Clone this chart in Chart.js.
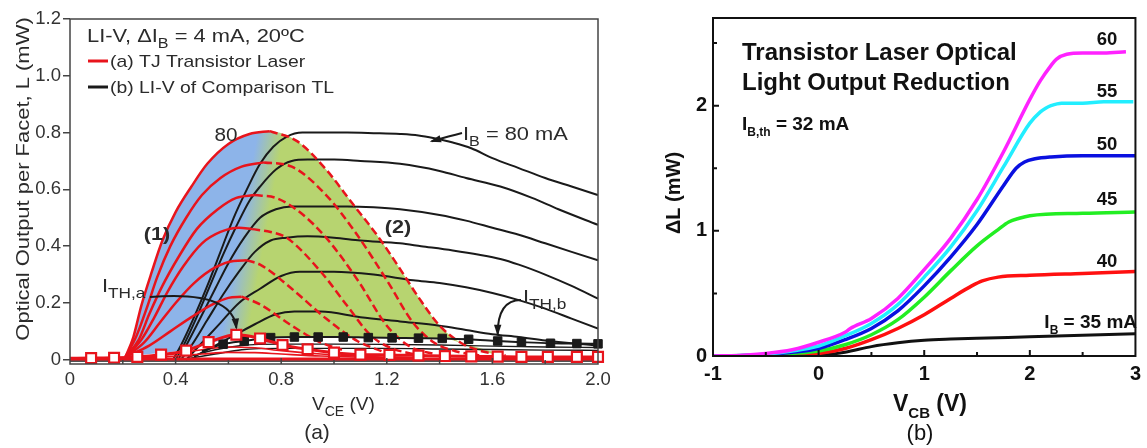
<!DOCTYPE html>
<html>
<head>
<meta charset="utf-8">
<title>Transistor laser LI-V</title>
<script src="https://cdn.jsdelivr.net/npm/chart.js"></script>
<style>
  body { margin: 0; background: #fff; }
  #wrap { position: relative; width: 1147px; height: 448px; }
  #chartA { position: absolute; left: 0; top: 0; }
  #chartB { position: absolute; left: 630px; top: 0; }
</style>
</head>
<body>
<div id="wrap">
  <canvas id="chartA" width="620" height="448"></canvas>
  <canvas id="chartB" width="517" height="448"></canvas>
</div>
<script>
// ---------- panel (a): LI-V, ticks ----------
const aXTicks = [0, 0.2, 0.4, 0.6, 0.8, 1.0, 1.2, 1.4, 1.6, 1.8, 2.0];
const aXLabels = ['0', '', '0.4', '', '0.8', '', '1.2', '', '1.6', '', '2.0'];
const aYTicks = [0, 0.2, 0.4, 0.6, 0.8, 1.0, 1.2];
const aYLabels = ['0', '0.2', '0.4', '0.6', '0.8', '1.0', '1.2'];

// TJ transistor laser, rising part (solid) and falling part (dashed), IB = 80..60 mA
const aRise80X = [0.21, 0.24, 0.27, 0.31, 0.35, 0.40, 0.46, 0.52, 0.60, 0.68, 0.757];
const aRise80Y = [0.01, 0.08, 0.19, 0.31, 0.42, 0.52, 0.61, 0.69, 0.76, 0.795, 0.805];
const aFall80X = [0.757, 0.86, 0.97, 1.07, 1.17, 1.25, 1.32, 1.40, 1.48, 1.56, 1.65];
const aFall80Y = [0.805, 0.77, 0.67, 0.55, 0.43, 0.32, 0.22, 0.12, 0.06, 0.03, 0.015];
const aRise76X = [0.21, 0.25, 0.29, 0.33, 0.38, 0.44, 0.50, 0.57, 0.65, 0.735];
const aRise76Y = [0.01, 0.08, 0.18, 0.29, 0.40, 0.50, 0.58, 0.64, 0.68, 0.695];
const aFall76X = [0.735, 0.84, 0.97, 1.08, 1.2, 1.3, 1.38, 1.46, 1.55];
const aFall76Y = [0.695, 0.68, 0.58, 0.45, 0.28, 0.13, 0.06, 0.03, 0.015];
const aRise72X = [0.21, 0.26, 0.30, 0.35, 0.41, 0.48, 0.56, 0.63, 0.70];
const aRise72Y = [0.01, 0.07, 0.16, 0.26, 0.36, 0.46, 0.53, 0.57, 0.58];
const aFall72X = [0.70, 0.78, 0.87, 0.97, 1.09, 1.2, 1.29, 1.38];
const aFall72Y = [0.58, 0.57, 0.52, 0.43, 0.28, 0.12, 0.045, 0.02];
const aRise68X = [0.21, 0.27, 0.32, 0.37, 0.43, 0.50, 0.57, 0.64, 0.69];
const aRise68Y = [0.01, 0.07, 0.15, 0.24, 0.33, 0.41, 0.45, 0.465, 0.46];
const aFall68X = [0.69, 0.76, 0.82, 0.95, 1.05, 1.14, 1.22, 1.30];
const aFall68Y = [0.46, 0.45, 0.43, 0.31, 0.19, 0.085, 0.04, 0.02];
const aRise64X = [0.21, 0.28, 0.34, 0.40, 0.47, 0.55, 0.62, 0.67];
const aRise64Y = [0.01, 0.06, 0.13, 0.20, 0.27, 0.325, 0.348, 0.35];
const aFall64X = [0.67, 0.72, 0.84, 0.97, 1.09, 1.18];
const aFall64Y = [0.35, 0.335, 0.25, 0.145, 0.065, 0.03];
const aRise60X = [0.21, 0.30, 0.38, 0.46, 0.54, 0.60, 0.65];
const aRise60Y = [0.01, 0.05, 0.10, 0.15, 0.195, 0.218, 0.222];
const aFall60X = [0.65, 0.72, 0.84, 0.94, 1.03];
const aFall60Y = [0.222, 0.195, 0.12, 0.065, 0.035];

// below-threshold red traces
const aHumpX = [0.21, 0.35, 0.5, 0.6, 0.7, 0.8, 0.95, 1.1, 1.3];
const aHump1Y = [0.005, 0.015, 0.035, 0.045, 0.042, 0.032, 0.02, 0.012, 0.008];
const aHump2Y = [0.004, 0.01, 0.02, 0.026, 0.025, 0.02, 0.013, 0.009, 0.006];
const aBaseX = [0, 2.0];
const aRedBaseY = [0.003, 0.003];
const aBlkBaseY = [-0.004, -0.004];

// threshold traces with markers
const aThAX = [0, 0.08, 0.167, 0.255, 0.345, 0.44, 0.525, 0.63, 0.72, 0.805, 0.90, 1.0, 1.1, 1.21, 1.32, 1.42, 1.52, 1.62, 1.71, 1.81, 1.92, 2.0];
const aThAY = [0.005, 0.006, 0.007, 0.01, 0.018, 0.032, 0.062, 0.088, 0.075, 0.052, 0.037, 0.025, 0.018, 0.017, 0.015, 0.013, 0.012, 0.011, 0.01, 0.01, 0.01, 0.01];
const aThBX = [0.50, 0.58, 0.66, 0.76, 0.85, 0.94, 1.035, 1.13, 1.22, 1.32, 1.41, 1.51, 1.62, 1.71, 1.82, 1.92, 2.0];
const aThBY = [0.03, 0.055, 0.066, 0.078, 0.08, 0.08, 0.08, 0.078, 0.077, 0.076, 0.075, 0.072, 0.066, 0.062, 0.058, 0.057, 0.056];

// comparison TL (black), IB = 80..60 mA
const aK80X = [0.39, 0.42, 0.47, 0.52, 0.57, 0.62, 0.67, 0.72, 0.77, 0.82, 0.88, 0.95, 1.05, 1.15, 1.25, 1.32, 1.38, 1.45, 1.52, 1.6, 1.7, 1.8, 1.9, 2.0];
const aK80Y = [0.0, 0.05, 0.15, 0.26, 0.38, 0.5, 0.6, 0.69, 0.75, 0.785, 0.80, 0.80, 0.80, 0.798, 0.795, 0.79, 0.78, 0.765, 0.745, 0.71, 0.675, 0.64, 0.61, 0.58];
const aK76X = [0.40, 0.43, 0.48, 0.53, 0.58, 0.63, 0.68, 0.72, 0.78, 0.84, 0.9, 1.0, 1.1, 1.25, 1.4, 1.5, 1.63, 1.75, 1.85, 2.0];
const aK76Y = [0, 0.05, 0.15, 0.26, 0.37, 0.47, 0.56, 0.61, 0.67, 0.70, 0.705, 0.705, 0.70, 0.69, 0.665, 0.64, 0.61, 0.57, 0.53, 0.475];
const aK72X = [0.41, 0.44, 0.49, 0.55, 0.6, 0.66, 0.72, 0.78, 0.84, 0.95, 1.05, 1.15, 1.25, 1.4, 1.5, 1.6, 1.7, 1.8, 1.9, 2.0];
const aK72Y = [0, 0.05, 0.14, 0.25, 0.34, 0.43, 0.50, 0.53, 0.54, 0.54, 0.54, 0.537, 0.53, 0.51, 0.49, 0.465, 0.44, 0.41, 0.38, 0.35];
const aK68X = [0.42, 0.46, 0.52, 0.58, 0.64, 0.7, 0.76, 0.82, 0.9, 1.0, 1.1, 1.25, 1.33, 1.45, 1.55, 1.63, 1.7, 1.8, 1.9, 2.0];
const aK68Y = [0, 0.05, 0.14, 0.23, 0.31, 0.38, 0.42, 0.43, 0.435, 0.43, 0.42, 0.41, 0.40, 0.385, 0.37, 0.355, 0.335, 0.30, 0.26, 0.215];
const aK64X = [0.44, 0.5, 0.57, 0.64, 0.72, 0.8, 0.87, 1.0, 1.15, 1.3, 1.4, 1.5, 1.6, 1.7, 1.8, 1.9, 2.0];
const aK64Y = [0, 0.06, 0.13, 0.2, 0.25, 0.295, 0.31, 0.31, 0.30, 0.28, 0.27, 0.255, 0.235, 0.21, 0.18, 0.145, 0.11];
const aK60X = [0.47, 0.55, 0.63, 0.7, 0.78, 0.85, 0.95, 1.1, 1.25, 1.4, 1.5, 1.6, 1.7, 1.8, 1.9, 2.0];
const aK60Y = [0.01, 0.05, 0.09, 0.125, 0.16, 0.17, 0.17, 0.15, 0.135, 0.12, 0.105, 0.09, 0.08, 0.068, 0.058, 0.05];
const aBundX = [0.45, 0.55, 0.65, 0.8, 1.0, 1.2, 1.4, 1.6, 1.8, 2.0];
const aBund1Y = [0.01, 0.035, 0.05, 0.055, 0.055, 0.054, 0.052, 0.048, 0.045, 0.043];
const aBund2Y = [0.005, 0.02, 0.035, 0.04, 0.04, 0.04, 0.038, 0.036, 0.034, 0.033];

// lower edge of the shaded regions (1) and (2)
const aFillLowX = [0.21, 0.3, 0.4, 0.5, 0.56, 0.63, 0.7, 0.76, 0.9, 1.1, 1.3, 1.42, 1.48, 1.65];
const aFillLowY = [0.01, 0.02, 0.03, 0.05, 0.065, 0.08, 0.08, 0.08, 0.08, 0.079, 0.076, 0.074, 0.06, 0.015];

// ---------- panel (b): light output reduction ----------
const bXTicks = [-1, -0.5, 0, 0.5, 1, 1.5, 2, 2.5, 3];
const bXLabels = ['-1', '', '0', '', '1', '', '2', '', '3'];
const bYTicks = [0, 0.5, 1, 1.5, 2, 2.5];
const bYLabels = ['0', '', '1', '', '2', ''];

const bM60X = [-1, -0.75, -0.5, -0.25, 0, 0.25, 0.3, 0.5, 0.75, 1.0, 1.25, 1.5, 1.75, 2.0, 2.1, 2.2, 2.25, 2.35, 2.5, 2.7, 2.91];
const bM60Y = [0, 0.005, 0.02, 0.05, 0.11, 0.19, 0.22, 0.30, 0.46, 0.69, 0.94, 1.25, 1.63, 2.05, 2.20, 2.32, 2.37, 2.41, 2.42, 2.42, 2.43];
const bC55X = [-1, -0.75, -0.5, -0.25, 0, 0.25, 0.5, 0.75, 1.0, 1.25, 1.5, 1.75, 2.0, 2.1, 2.15, 2.2, 2.3, 2.5, 2.7, 2.98];
const bC55Y = [0, 0.004, 0.015, 0.04, 0.08, 0.16, 0.26, 0.41, 0.63, 0.87, 1.16, 1.51, 1.86, 1.95, 1.98, 2.0, 2.02, 2.02, 2.03, 2.03];
const bB50X = [-1, -0.75, -0.5, -0.25, 0, 0.25, 0.5, 0.75, 1.0, 1.25, 1.5, 1.75, 1.87, 1.95, 2.05, 2.2, 2.5, 3.0];
const bB50Y = [0, 0.003, 0.012, 0.03, 0.06, 0.13, 0.22, 0.36, 0.56, 0.79, 1.05, 1.36, 1.50, 1.55, 1.575, 1.59, 1.60, 1.60];
const bG45X = [-1, -0.75, -0.5, -0.25, 0, 0.25, 0.5, 0.75, 1.0, 1.25, 1.5, 1.7, 1.8, 1.9, 2.0, 2.5, 3.0];
const bG45Y = [0, 0.002, 0.008, 0.02, 0.04, 0.09, 0.17, 0.29, 0.47, 0.68, 0.88, 1.01, 1.07, 1.10, 1.12, 1.14, 1.15];
const bR40X = [-1, -0.5, -0.25, 0, 0.25, 0.5, 0.75, 1.0, 1.25, 1.45, 1.55, 1.7, 2.0, 2.5, 3.0];
const bR40Y = [0, 0.005, 0.01, 0.02, 0.06, 0.13, 0.22, 0.33, 0.46, 0.56, 0.60, 0.63, 0.645, 0.66, 0.675];
const bK35X = [-1, -0.5, 0, 0.25, 0.5, 0.75, 1.0, 1.25, 1.5, 2.0, 2.5, 3.0];
const bK35Y = [0, 0, 0.005, 0.03, 0.075, 0.105, 0.125, 0.135, 0.142, 0.153, 0.165, 0.178];

// ---------- helpers ----------
const FONT = '"Liberation Sans", Arial, sans-serif';
const RED = '#e8141c';
const INK = '#1a1a1a';
Chart.defaults.font.family = FONT;
Chart.defaults.elements.line.cubicInterpolationMode = 'monotone';
Chart.defaults.elements.point.radius = 0;

const pts = (xs, ys) => xs.map((x, i) => ({ x: x, y: ys[i] }));
function line(xs, ys, color, width, extra) {
  return Object.assign({ data: pts(xs, ys), borderColor: color, borderWidth: width, pointRadius: 0, fill: false }, extra || {});
}

// text with subscripts; sx stretches the text along its baseline
function rich(ctx, x, y, parts, size, weight, align, sx, subRatio) {
  sx = sx || 1;
  const subSize = Math.round(size * (subRatio || 0.72));
  const main = weight + ' ' + size + 'px ' + FONT;
  const sub = weight + ' ' + subSize + 'px ' + FONT;
  let w = 0;
  parts.forEach(p => { ctx.font = p[1] ? sub : main; w += ctx.measureText(p[0]).width; });
  const start = align === 'right' ? x - w * sx : align === 'center' ? x - w * sx / 2 : x;
  ctx.save();
  ctx.translate(start, y);
  ctx.scale(sx, 1);
  ctx.textAlign = 'left';
  ctx.textBaseline = 'alphabetic';
  let cx = 0;
  parts.forEach(p => {
    ctx.font = p[1] ? sub : main;
    ctx.fillText(p[0], cx, p[1] ? size * 0.3 : 0);
    cx += ctx.measureText(p[0]).width;
  });
  ctx.restore();
}

function arrow(ctx, x0, y0, cx, cy, x1, y1, head) {
  ctx.beginPath();
  ctx.moveTo(x0, y0);
  ctx.quadraticCurveTo(cx, cy, x1, y1);
  ctx.stroke();
  const a = Math.atan2(y1 - cy, x1 - cx);
  ctx.beginPath();
  ctx.moveTo(x1 + Math.cos(a) * 2, y1 + Math.sin(a) * 2);
  ctx.lineTo(x1 - head * Math.cos(a - 0.38), y1 - head * Math.sin(a - 0.38));
  ctx.lineTo(x1 - head * Math.cos(a + 0.38), y1 - head * Math.sin(a + 0.38));
  ctx.closePath();
  ctx.fill();
}

// box around the plot plus inward tick marks
function framePlugin(name, color, width, xTicks, xLabels, yTicks, yLabels) {
  return {
    id: 'frame' + name,
    afterDatasetsDraw(chart) {
      const { ctx, chartArea: a, scales: { x, y } } = chart;
      ctx.save();
      ctx.strokeStyle = color;
      ctx.lineWidth = width;
      ctx.strokeRect(a.left, a.top, a.right - a.left, a.bottom - a.top);
      ctx.beginPath();
      xTicks.forEach((v, i) => {
        const px = x.getPixelForValue(v);
        if (px <= a.left + 1 || px >= a.right - 1) return;
        const len = xLabels[i] ? 6 : 4;
        ctx.moveTo(px, a.bottom);
        ctx.lineTo(px, a.bottom - len);
      });
      yTicks.forEach((v, i) => {
        const py = y.getPixelForValue(v);
        if (py <= a.top + 1 || py >= a.bottom - 1) return;
        const len = yLabels[i] ? 6 : 4;
        ctx.moveTo(a.left, py);
        ctx.lineTo(a.left + len, py);
      });
      ctx.stroke();
      ctx.restore();
    }
  };
}

// blue -> green blend across the line separating regions (1) and (2)
function blendFill(chart) {
  const { chartArea, scales } = chart;
  if (!chartArea || !scales.x) return 'rgba(141,180,233,0.9)';
  const ax = scales.x.getPixelForValue(0.62), ay = scales.y.getPixelForValue(0.07);
  const bx = scales.x.getPixelForValue(0.76), by = scales.y.getPixelForValue(0.80);
  let dx = bx - ax, dy = by - ay;
  const L = Math.hypot(dx, dy);
  dx /= L; dy /= L;
  const nx = -dy, ny = dx;
  const mx = (ax + bx) / 2, my = (ay + by) / 2, w = 13;
  const g = chart.ctx.createLinearGradient(mx - nx * w, my - ny * w, mx + nx * w, my + ny * w);
  g.addColorStop(0, 'rgb(141,180,233)');
  g.addColorStop(1, 'rgb(183,212,112)');
  return g;
}

// ---------- panel (a) ----------
const dashed = { borderDash: [8, 4] };
const envX = aRise80X.concat(aFall80X.slice(1));
const envY = aRise80Y.concat(aFall80Y.slice(1));

const datasetsA = [
  line(aThAX, aThAY, RED, 3, {
    pointStyle: 'rect', pointRadius: aThAX.map((v, i) => i === 0 ? 0 : 7),
    pointBackgroundColor: '#fff', pointBorderColor: RED, pointBorderWidth: 2.2, clip: 8
  }),
  line(aThBX, aThBY, INK, 2, {
    pointStyle: 'rect', pointRadius: aThBX.map((v, i) => i === 0 ? 0 : 6),
    pointBackgroundColor: INK, pointBorderColor: INK, pointBorderWidth: 1, clip: 8
  }),
  line(aBaseX, aRedBaseY, RED, 3),
  line(aHumpX, aHump1Y, RED, 1.6),
  line(aHumpX, aHump2Y, RED, 1.6),
  line(aFall80X, aFall80Y, RED, 2.5, dashed),
  line(aFall76X, aFall76Y, RED, 2.5, dashed),
  line(aFall72X, aFall72Y, RED, 2.5, dashed),
  line(aFall68X, aFall68Y, RED, 2.5, dashed),
  line(aFall64X, aFall64Y, RED, 2.5, dashed),
  line(aFall60X, aFall60Y, RED, 2.5, dashed),
  line(aRise80X, aRise80Y, RED, 2.5),
  line(aRise76X, aRise76Y, RED, 2.5),
  line(aRise72X, aRise72Y, RED, 2.5),
  line(aRise68X, aRise68Y, RED, 2.5),
  line(aRise64X, aRise64Y, RED, 2.5),
  line(aRise60X, aRise60Y, RED, 2.5),
  line(aK80X, aK80Y, INK, 2),
  line(aK76X, aK76Y, INK, 2),
  line(aK72X, aK72Y, INK, 2),
  line(aK68X, aK68Y, INK, 2),
  line(aK64X, aK64Y, INK, 2),
  line(aK60X, aK60Y, INK, 2),
  line(aBundX, aBund1Y, INK, 1.4),
  line(aBundX, aBund2Y, INK, 1.4),
  line(aBaseX, aBlkBaseY, INK, 1.5),
  line(envX, envY, 'rgba(0,0,0,0)', 0, { fill: '+1', backgroundColor: c => blendFill(c.chart) }),
  line(aFillLowX, aFillLowY, 'rgba(0,0,0,0)', 0)
];

const textA = {
  id: 'textA',
  afterDraw(chart) {
    const { ctx, scales: { x, y } } = chart;
    ctx.save();
    ctx.fillStyle = '#2b2b2b';
    rich(ctx, 87, 42, [['LI-V, \u0394I'], ['B', 1], [' = 4 mA, 20\u00baC']], 19, '', 'left', 1.15);
    ctx.lineWidth = 3;
    ctx.strokeStyle = RED;
    ctx.beginPath(); ctx.moveTo(88, 61); ctx.lineTo(108, 61); ctx.stroke();
    ctx.strokeStyle = INK;
    ctx.beginPath(); ctx.moveTo(88, 87); ctx.lineTo(108, 87); ctx.stroke();
    rich(ctx, 110, 67, [['(a) TJ Transistor Laser']], 17, '', 'left', 1.14);
    rich(ctx, 110, 93, [['(b) LI-V of Comparison TL']], 17, '', 'left', 1.14);
    rich(ctx, 226, 141, [['80']], 18, '', 'center', 1.15);
    rich(ctx, 157, 240, [['(1)']], 18, 'bold', 'center', 1.2);
    rich(ctx, 398, 233, [['(2)']], 18, 'bold', 'center', 1.2);
    rich(ctx, 463, 140, [['I'], ['B', 1], [' = 80 mA']], 19, '', 'left', 1.15, 0.75);
    rich(ctx, 102, 292, [['I'], ['TH,a', 1]], 19, '', 'left', 1.15, 0.8);
    rich(ctx, 523, 303, [['I'], ['TH,b', 1]], 19, '', 'left', 1.15, 0.8);

    ctx.strokeStyle = INK;
    ctx.fillStyle = INK;
    ctx.lineWidth = 2;
    const t1x = x.getPixelForValue(1.37), t1y = y.getPixelForValue(0.78) + 3;
    arrow(ctx, 462, 133, 450, 136, t1x, t1y, 10);
    const t2x = x.getPixelForValue(0.63), t2y = y.getPixelForValue(0.088) - 7;
    arrow(ctx, 150, 297, t2x - 4, 290, t2x, t2y, 10);
    const t3x = x.getPixelForValue(1.62), t3y = y.getPixelForValue(0.066) - 7;
    arrow(ctx, 521, 300, t3x, 300, t3x, t3y, 10);

    ctx.fillStyle = '#2b2b2b';
    rich(ctx, 312, 410, [['V'], ['CE', 1], [' (V)']], 19, '');
    rich(ctx, 317, 439, [['(a)']], 21, '', 'center');
    ctx.translate(23, 179);
    ctx.rotate(-Math.PI / 2);
    rich(ctx, 0, 6, [['Optical Output per Facet, L (mW)']], 18, '', 'center', 1.22);
    ctx.restore();
  }
};

new Chart(document.getElementById('chartA'), {
  type: 'line',
  data: { datasets: datasetsA },
  options: {
    responsive: false,
    animation: false,
    layout: { padding: { top: 19, right: 22, left: 0, bottom: 0 } },
    plugins: { legend: { display: false }, tooltip: { enabled: false } },
    scales: {
      x: {
        type: 'linear', min: 0, max: 2.0,
        afterBuildTicks: s => { s.ticks = aXTicks.map(v => ({ value: v })); },
        afterFit: s => { s.height = 84; },
        grid: { display: false, drawTicks: false }, border: { display: false },
        ticks: { autoSkip: false, maxRotation: 0, padding: 5, color: '#333', font: { size: 18.5 },
          callback: (v, i) => aXLabels[i] }
      },
      y: {
        type: 'linear', min: -0.015, max: 1.2,
        afterBuildTicks: s => { s.ticks = aYTicks.map(v => ({ value: v })); },
        afterFit: s => { s.width = 70; },
        grid: { drawOnChartArea: false, tickLength: 7, color: '#444', lineWidth: 1.5 },
        border: { display: false },
        ticks: { autoSkip: false, padding: 2, color: '#333', font: { size: 18.5 },
          callback: (v, i) => aYLabels[i] }
      }
    }
  },
  plugins: [framePlugin('A', '#444', 1.5, aXTicks, aXLabels, [], []), textA]
});

// ---------- panel (b) ----------
const datasetsB = [
  line(bM60X, bM60Y, '#ff22ff', 3.5),
  line(bC55X, bC55Y, '#22eeff', 3.5),
  line(bB50X, bB50Y, '#0a10e0', 3.5),
  line(bG45X, bG45Y, '#22ee22', 3.5),
  line(bR40X, bR40Y, '#ff1010', 3.5),
  line(bK35X, bK35Y, '#111', 3)
];

const textB = {
  id: 'textB',
  afterDraw(chart) {
    const ctx = chart.ctx;
    ctx.save();
    ctx.fillStyle = '#111';
    rich(ctx, 112, 60, [['Transistor Laser Optical']], 24, 'bold');
    rich(ctx, 112, 90, [['Light Output Reduction']], 24, 'bold');
    rich(ctx, 112, 130, [['I'], ['B,th', 1], [' = 32 mA']], 19, 'bold', 'left', 1, 0.62);
    rich(ctx, 477, 45, [['60']], 18.5, 'bold', 'center');
    rich(ctx, 477, 97, [['55']], 18.5, 'bold', 'center');
    rich(ctx, 477, 150, [['50']], 18.5, 'bold', 'center');
    rich(ctx, 477, 205, [['45']], 18.5, 'bold', 'center');
    rich(ctx, 477, 267, [['40']], 18.5, 'bold', 'center');
    rich(ctx, 507, 328, [['I'], ['B', 1], [' = 35 mA']], 19, 'bold', 'right', 1, 0.62);
    rich(ctx, 300, 411, [['V'], ['CB', 1], [' (V)']], 23, 'bold', 'center', 1, 0.65);
    rich(ctx, 290, 440, [['(b)']], 22, '', 'center');
    ctx.translate(50, 193);
    ctx.rotate(-Math.PI / 2);
    rich(ctx, 0, 0, [['\u0394L (mW)']], 20, 'bold', 'center');
    ctx.restore();
  }
};

new Chart(document.getElementById('chartB'), {
  type: 'line',
  data: { datasets: datasetsB },
  options: {
    responsive: false,
    animation: false,
    layout: { padding: { top: 13, right: 6, left: 0, bottom: 0 } },
    plugins: { legend: { display: false }, tooltip: { enabled: false } },
    scales: {
      x: {
        type: 'linear', min: -1, max: 3,
        afterBuildTicks: s => { s.ticks = bXTicks.map(v => ({ value: v })); },
        afterFit: s => { s.height = 92; },
        grid: { display: false, drawTicks: false }, border: { display: false },
        ticks: { autoSkip: false, maxRotation: 0, padding: 6, color: '#111', font: { size: 20, weight: 'bold' },
          callback: (v, i) => bXLabels[i] }
      },
      y: {
        type: 'linear', min: 0, max: 2.7,
        afterBuildTicks: s => { s.ticks = bYTicks.map(v => ({ value: v })); },
        afterFit: s => { s.width = 83; },
        grid: { display: false, drawTicks: false }, border: { display: false },
        ticks: { autoSkip: false, padding: 6, color: '#111', font: { size: 20, weight: 'bold' },
          callback: (v, i) => bYLabels[i] }
      }
    }
  },
  plugins: [framePlugin('B', '#111', 2, bXTicks, bXLabels, bYTicks, bYLabels), textB]
});
</script>
</body>
</html>
